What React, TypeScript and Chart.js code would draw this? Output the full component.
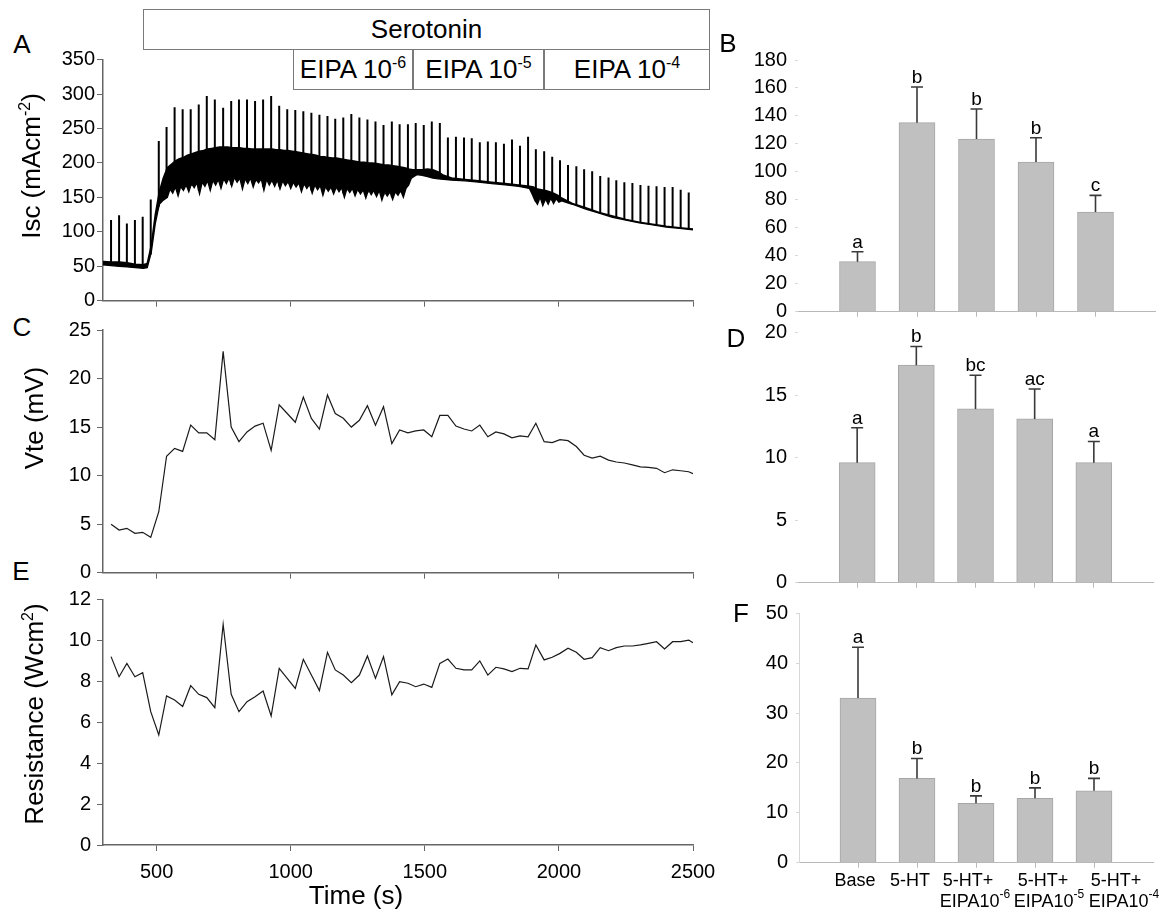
import React, { useEffect, useRef } from "react";
import { Chart, registerables } from "chart.js";

Chart.register(...registerables);

const FONT = '"Liberation Sans", Arial, Helvetica, sans-serif';

// ---------- Time axis ----------
const timeTickValues = [500, 1000, 1500, 2000, 2500];

// Sampling times (s) of the pulses / Vte / resistance readings
const sampleTimes = [330, 360, 389, 419, 448, 478, 508, 537, 567, 597, 627, 657, 687, 717, 748, 778, 807, 837, 867, 897, 927, 957, 987, 1017, 1047, 1077, 1107, 1137, 1166, 1196, 1226, 1256, 1286, 1316, 1346, 1377, 1406, 1437, 1466, 1496, 1526, 1556, 1586, 1616, 1646, 1675, 1705, 1735, 1765, 1795, 1825, 1855, 1885, 1914, 1945, 1975, 2004, 2034, 2065, 2094, 2124, 2154, 2185, 2214, 2244, 2274, 2304, 2334, 2364, 2394, 2424, 2454, 2484, 2500];

// ---------- Panel A: Isc trace ----------
const iscTicks = [0, 50, 100, 150, 200, 250, 300, 350];
// upper envelope of the recorded trace
const upperTimes = [300, 330, 360, 390, 420, 450, 465, 480, 495, 510, 525, 540, 555, 570, 585, 600, 615, 630, 645, 660, 675, 690, 705, 720, 735, 750, 765, 780, 795, 810, 825, 840, 855, 870, 885, 900, 915, 930, 945, 960, 975, 990, 1005, 1020, 1035, 1050, 1065, 1080, 1095, 1110, 1125, 1140, 1155, 1170, 1185, 1200, 1215, 1230, 1245, 1260, 1275, 1290, 1305, 1320, 1335, 1350, 1365, 1380, 1395, 1410, 1425, 1440, 1455, 1470, 1490, 1510, 1530, 1550, 1570, 1600, 1650, 1700, 1750, 1800, 1850, 1890, 1905, 1920, 1935, 1950, 1965, 1980, 1995, 2010, 2050, 2100, 2150, 2200, 2250, 2300, 2350, 2400, 2450, 2500];
const traceUpper = [57, 56, 56, 55, 53, 52, 54, 80, 125, 158, 178, 193, 198, 203, 206, 208, 211, 213, 215, 217, 218, 220, 221, 222, 223, 223, 223, 222, 222, 222, 221, 221, 220, 220, 220, 220, 220, 220, 219, 219, 218, 218, 217, 216, 215, 214, 213, 212, 211, 209, 209, 208, 207, 207, 206, 205, 204, 203, 202, 201, 201, 200, 200, 199, 198, 197, 197, 196, 195, 194, 193, 191, 190, 190, 190, 191, 190, 187, 182, 178, 176, 174, 172, 170, 168, 166, 165, 162, 161, 160, 158, 156, 153, 149, 141, 135, 128, 123, 118, 114, 111, 108, 106, 104];
// lower (ragged) envelope of the recorded trace
const lowerTimes = [300, 330, 360, 390, 420, 450, 465, 480, 495, 510, 525,
  540, 550, 560, 570, 580, 590, 600, 610, 620, 630, 640, 650, 660, 670, 680, 690, 700, 710, 720, 730, 740, 750, 760, 770, 780, 790, 800, 810, 820, 830, 840, 850, 860, 870, 880, 890, 900, 910, 920, 930, 940, 950, 960, 970, 980, 990, 1000, 1010, 1020, 1030, 1040, 1050, 1060, 1070, 1080, 1090, 1100, 1110, 1120, 1130, 1140, 1150, 1160, 1170, 1180, 1190, 1200, 1210, 1220, 1230, 1240, 1250, 1260, 1270, 1280, 1290, 1300, 1310, 1320, 1330, 1340, 1350, 1360, 1370, 1380, 1390, 1400, 1410, 1420, 1430, 1440, 1450,
  1470, 1490, 1510, 1530, 1550, 1570, 1600, 1650, 1700, 1750, 1800, 1850, 1890,
  1900, 1910, 1920, 1930, 1940, 1950, 1960, 1970, 1980, 1990, 2000, 2010,
  2050, 2100, 2150, 2200, 2250, 2300, 2350, 2400, 2450, 2500];
const traceLower = [52, 51, 50, 49, 48, 47, 48, 70, 112, 140, 146,
  150, 162, 156, 165, 152, 166, 160, 168, 158, 170, 164, 171, 155, 172, 166, 174, 160, 175, 168, 176, 163, 177, 170, 178, 166, 179, 172, 178, 162, 177, 170, 178, 165, 176, 171, 177, 160, 176, 168, 175, 166, 175, 162, 174, 167, 173, 163, 172, 165, 171, 158, 170, 163, 169, 156, 168, 161, 167, 153, 166, 159, 165, 155, 165, 158, 164, 150, 163, 157, 163, 152, 162, 155, 161, 149, 161, 154, 160, 151, 160, 146, 158, 152, 158, 147, 158, 153, 160, 150, 163, 168, 178,
  183, 182, 180, 178, 177, 176, 175, 174, 172, 170, 168, 166, 163,
  155, 146, 140, 150, 138, 148, 140, 149, 141, 148, 143, 145,
  140, 133, 127, 121, 117, 113, 110, 107, 105, 103];
const spikePeaks = [117, 124, 112, 117, 122, 147, 232, 252, 281, 278, 278, 285, 297, 292, 280, 290, 292, 292, 290, 292, 297, 283, 278, 277, 275, 273, 270, 268, 264, 266, 271, 266, 263, 260, 255, 260, 256, 256, 258, 255, 260, 258, 237, 238, 237, 236, 230, 231, 230, 228, 234, 225, 238, 220, 217, 209, 204, 197, 195, 191, 188, 181, 179, 175, 172, 171, 168, 167, 166, 165, 165, 161, 157];

// ---------- Panel C: Vte ----------
const vteTicks = [0, 5, 10, 15, 20, 25];
const vteValues = [5.0, 4.4, 4.57, 4.05, 4.16, 3.64, 6.28, 12.0, 12.8, 12.5, 15.2, 14.4, 14.4, 13.7, 22.8, 15.0, 13.5, 14.5, 15.1, 15.4, 12.6, 17.3, 16.4, 15.5, 18.1, 15.9, 14.8, 18.3, 16.4, 15.9, 15.0, 15.7, 17.2, 15.2, 17.1, 13.3, 14.7, 14.4, 14.6, 14.7, 14.0, 16.2, 16.2, 15.1, 14.8, 14.6, 15.2, 14.0, 14.5, 14.3, 13.9, 14.1, 14.0, 15.4, 13.5, 13.4, 13.7, 13.6, 13.0, 12.1, 11.8, 12.0, 11.6, 11.4, 11.3, 11.1, 10.9, 10.85, 10.75, 10.3, 10.6, 10.5, 10.4, 10.2];

// ---------- Panel E: Resistance ----------
const resTicks = [0, 2, 4, 6, 8, 10, 12];
const resistanceValues = [9.2, 8.22, 8.87, 8.22, 8.42, 6.51, 5.37, 7.28, 7.08, 6.76, 7.78, 7.36, 7.2, 6.71, 10.78, 7.36, 6.51, 7.0, 7.24, 7.52, 6.3, 8.63, 8.14, 7.65, 9.07, 8.3, 7.54, 9.41, 8.55, 8.3, 7.93, 8.3, 9.23, 8.14, 9.2, 7.33, 7.98, 7.9, 7.73, 7.86, 7.7, 8.87, 9.08, 8.63, 8.55, 8.55, 8.99, 8.3, 8.68, 8.6, 8.47, 8.63, 8.6, 9.77, 9.04, 9.17, 9.36, 9.61, 9.41, 9.07, 9.15, 9.64, 9.49, 9.64, 9.72, 9.72, 9.77, 9.85, 9.93, 9.57, 9.93, 9.93, 10.01, 9.88];

// ---------- Bar panels ----------
const treatments = ["Base", "5-HT", "5-HT+EIPA10-6", "5-HT+EIPA10-5", "5-HT+EIPA10-4"];
const labelLine1 = ["Base", "5-HT", "5-HT+", "5-HT+", "5-HT+"];
const labelLine2 = ["", "", "EIPA10", "EIPA10", "EIPA10"];
const labelSup = ["", "", "-6", "-5", "-4"];
const barPositions = [1, 2, 3, 4, 5];

const bIscTicks = [0, 20, 40, 60, 80, 100, 120, 140, 160, 180];
const bIscMeans = [35.8, 135.2, 123.5, 107.0, 71.3];
const bIscErrors = [7.1, 25.5, 21.5, 17.4, 11.9];
const bIscLetters = ["a", "b", "b", "b", "c"];

const dVteTicks = [0, 5, 10, 15, 20];
const dVteMeans = [9.6, 17.4, 13.9, 13.1, 9.6];
const dVteErrors = [2.8, 1.5, 2.7, 2.4, 1.7];
const dVteLetters = ["a", "b", "bc", "ac", "a"];

const fResTicks = [0, 10, 20, 30, 40, 50];
const fResMeans = [33.0, 16.9, 11.9, 12.9, 14.4];
const fResErrors = [10.2, 4.0, 1.5, 2.1, 2.5];
const fResLetters = ["a", "b", "b", "b", "b"];

// ---------- helpers ----------
type Box = { left: number; top: number; width: number; height: number };
type Area = { l: number; t: number; r: number; b: number };

function lowerAt(t: number) {
  for (let i = 1; i < lowerTimes.length; i++) {
    if (t <= lowerTimes[i]) {
      const t0 = lowerTimes[i - 1], t1 = lowerTimes[i];
      const f = (t - t0) / (t1 - t0);
      return traceLower[i - 1] + f * (traceLower[i] - traceLower[i - 1]);
    }
  }
  return traceLower[traceLower.length - 1];
}

function layoutFor(canvas: Box, plot: Area) {
  return {
    padding: { top: plot.t - canvas.top, right: canvas.left + canvas.width - plot.r, left: 0, bottom: 0 },
    yWidth: plot.l - canvas.left,
    xHeight: canvas.top + canvas.height - plot.b,
  };
}

const AXIS = "#666666";

function timeScales(lay: any, yTicks: number[], showX: boolean, yTickLen: number, yPad: number) {
  return {
    x: {
      type: "linear",
      min: 300,
      max: 2500,
      afterBuildTicks: (s: any) => { s.ticks = timeTickValues.map((v) => ({ value: v })); },
      afterFit: (s: any) => { s.height = lay.xHeight; s.paddingLeft = 0; s.paddingRight = 0; },
      grid: { drawOnChartArea: false, drawTicks: true, tickLength: 6, color: AXIS, lineWidth: 1 },
      border: { display: true, color: AXIS, width: 1.5 },
      ticks: {
        autoSkip: false, maxRotation: 0, padding: 9, color: "#000",
        font: { family: FONT, size: 20 },
        callback: (v: any) => (showX ? String(v) : ""),
      },
    },
    y: {
      type: "linear",
      min: yTicks[0],
      max: yTicks[yTicks.length - 1],
      afterBuildTicks: (s: any) => { s.ticks = yTicks.map((v) => ({ value: v })); },
      afterFit: (s: any) => { s.width = lay.yWidth; s.paddingTop = 0; s.paddingBottom = 0; },
      grid: { drawOnChartArea: false, drawTicks: true, tickLength: yTickLen, color: AXIS, lineWidth: 1 },
      border: { display: true, color: AXIS, width: 1.5 },
      ticks: { padding: yPad, color: "#000", font: { family: FONT, size: 20 }, callback: (v: any) => String(v) },
    },
  };
}

const baseOpts = {
  animation: false,
  responsive: false,
  devicePixelRatio: 1,
  events: [],
};

const barDecor = {
  id: "barDecor",
  afterDatasetsDraw(chart: any, _args: any, opts: any) {
    const { ctx } = chart;
    const xs = chart.scales.x;
    const ys = chart.scales.y;
    ctx.save();
    opts.means.forEach((m: number, i: number) => {
      const px = xs.getPixelForValue(barPositions[i]);
      const y0 = ys.getPixelForValue(m);
      const y1 = ys.getPixelForValue(m + opts.errors[i]);
      ctx.strokeStyle = "#3a3a3a";
      ctx.lineWidth = 1.6;
      ctx.beginPath();
      ctx.moveTo(px, y0);
      ctx.lineTo(px, y1);
      ctx.moveTo(px - 6, y1);
      ctx.lineTo(px + 6, y1);
      ctx.stroke();
      ctx.fillStyle = "#000";
      ctx.font = `19px ${FONT}`;
      ctx.textAlign = "center";
      ctx.textBaseline = "alphabetic";
      ctx.fillText(opts.letters[i], px, y1 - 4);
    });
    if (opts.showLabels) {
      const bottom = chart.chartArea.bottom;
      const shift1 = [-3, -7, -8, 8, 22];
      const shift2 = [0, 0, -1, 14, 30];
      ctx.fillStyle = "#000";
      ctx.textBaseline = "middle";
      labelLine1.forEach((l1, i) => {
        const px = xs.getPixelForValue(barPositions[i]);
        ctx.font = `18px ${FONT}`;
        ctx.textAlign = "center";
        ctx.fillText(l1, px + shift1[i], bottom + 18);
        if (labelLine2[i]) {
          ctx.font = `18px ${FONT}`;
          const w1 = ctx.measureText(labelLine2[i]).width;
          ctx.font = `12px ${FONT}`;
          const w2 = ctx.measureText(labelSup[i]).width;
          const start = px + shift2[i] - (w1 + w2) / 2;
          ctx.textAlign = "left";
          ctx.font = `18px ${FONT}`;
          ctx.fillText(labelLine2[i], start, bottom + 39);
          ctx.font = `12px ${FONT}`;
          ctx.fillText(labelSup[i], start + w1, bottom + 32);
        }
      });
    }
    ctx.restore();
  },
};

function barConfig(canvas: Box, plot: Area, ticks: number[], means: number[], errors: number[], letters: string[], showLabels: boolean, yBorder: boolean) {
  const lay = layoutFor(canvas, plot);
  return {
    type: "bar",
    data: {
      datasets: [
        {
          label: "mean",
          data: barPositions.map((p, i) => ({ x: p, y: means[i] })),
          backgroundColor: "#c0c0c0",
          borderColor: "#a6a6a6",
          borderWidth: 1,
          barThickness: 36,
        },
      ],
    },
    options: {
      ...baseOpts,
      layout: { padding: lay.padding },
      plugins: {
        legend: { display: false },
        tooltip: { enabled: false },
        barDecor: { means, errors, letters, showLabels },
      },
      scales: {
        x: {
          type: "linear",
          min: 0,
          max: 6,
          offset: false,
          afterBuildTicks: (s: any) => { s.ticks = barPositions.map((v) => ({ value: v })); },
          afterFit: (s: any) => { s.height = lay.xHeight; s.paddingLeft = 0; s.paddingRight = 0; },
          grid: { offset: false, drawOnChartArea: false, drawTicks: true, tickLength: 5, color: "#b8b8b8" },
          border: { display: true, color: "#b8b8b8", width: 1 },
          ticks: { callback: () => "", autoSkip: false },
        },
        y: {
          type: "linear",
          min: ticks[0],
          max: ticks[ticks.length - 1],
          afterBuildTicks: (s: any) => { s.ticks = ticks.map((v) => ({ value: v })); },
          afterFit: (s: any) => { s.width = lay.yWidth; s.paddingTop = 0; s.paddingBottom = 0; },
          grid: { drawOnChartArea: false, drawTicks: true, tickLength: 3, color: "#d8d8d8" },
          border: { display: yBorder, color: "#d8d8d8", width: 1 },
          ticks: { padding: 8, color: "#000", font: { family: FONT, size: 20 }, callback: (v: any) => String(v) },
        },
      },
    },
    plugins: [barDecor],
  };
}

// ---------- panel geometry ----------
const boxA: Box = { left: 40, top: 40, width: 690, height: 275 };
const plotA: Area = { l: 103, t: 59.6, r: 693, b: 300.7 };
const boxC: Box = { left: 40, top: 315, width: 690, height: 270 };
const plotC: Area = { l: 103, t: 330, r: 693, b: 572.7 };
const boxE: Box = { left: 40, top: 585, width: 690, height: 305 };
const plotE: Area = { l: 103, t: 599.3, r: 693, b: 845 };
const boxB: Box = { left: 745, top: 45, width: 420, height: 275 };
const plotB: Area = { l: 798, t: 60, r: 1155, b: 311.7 };
const boxD: Box = { left: 745, top: 320, width: 420, height: 270 };
const plotD: Area = { l: 798, t: 332.7, r: 1153, b: 582.7 };
const boxF: Box = { left: 745, top: 600, width: 423, height: 318 };
const plotF: Area = { l: 799, t: 613.3, r: 1153, b: 862.7 };

function configA() {
  const lay = layoutFor(boxA, plotA);
  const spikeData: any[] = [];
  spikePeaks.forEach((p, i) => {
    const t = sampleTimes[i];
    spikeData.push({ x: t, y: lowerAt(t) }, { x: t, y: p }, { x: t, y: null });
  });
  return {
    type: "line",
    data: {
      datasets: [
        { label: "upper", data: upperTimes.map((t, i) => ({ x: t, y: traceUpper[i] })), borderColor: "#000", borderWidth: 1.6, pointRadius: 0, fill: false },
        { label: "lower", data: lowerTimes.map((t, i) => ({ x: t, y: traceLower[i] })), borderColor: "#000", borderWidth: 1.3, pointRadius: 0, fill: "-1", backgroundColor: "#000" },
        { label: "spikes", data: spikeData, borderColor: "#000", borderWidth: 2, pointRadius: 0, spanGaps: false, fill: false },
      ],
    },
    options: {
      ...baseOpts,
      layout: { padding: lay.padding },
      plugins: { legend: { display: false }, tooltip: { enabled: false } },
      scales: timeScales(lay, iscTicks, false, 6, 2),
    },
  };
}

function lineConfig(box: Box, plot: Area, ticks: number[], values: number[], showX: boolean) {
  const lay = layoutFor(box, plot);
  return {
    type: "line",
    data: {
      datasets: [
        { label: "v", data: sampleTimes.map((t, i) => ({ x: t, y: values[i] })), borderColor: "#1a1a1a", borderWidth: 1.2, pointRadius: 0, fill: false, tension: 0 },
      ],
    },
    options: {
      ...baseOpts,
      layout: { padding: lay.padding },
      plugins: { legend: { display: false }, tooltip: { enabled: false } },
      scales: timeScales(lay, ticks, showX, 6, 6),
    },
  };
}

function ChartCanvas({ box, make }: { box: Box; make: () => any }) {
  const ref = useRef<HTMLCanvasElement>(null);
  useEffect(() => {
    const chart = new Chart(ref.current as HTMLCanvasElement, make());
    return () => chart.destroy();
  }, []);
  return (
    <canvas
      ref={ref}
      width={box.width}
      height={box.height}
      style={{ position: "absolute", left: box.left, top: box.top, width: box.width, height: box.height }}
    />
  );
}

const textBase: React.CSSProperties = { position: "absolute", fontFamily: FONT, color: "#000", whiteSpace: "nowrap" };

function Letter({ x, y, children }: { x: number; y: number; children: React.ReactNode }) {
  return (
    <div style={{ ...textBase, left: x, top: y, transform: "translate(-50%,-50%)", fontSize: 26, lineHeight: "26px" }}>{children}</div>
  );
}

function VTitle({ x, y, children }: { x: number; y: number; children: React.ReactNode }) {
  return (
    <div style={{ ...textBase, left: x, top: y, transform: "translate(-50%,-50%) rotate(-90deg)", fontSize: 26, lineHeight: "28px" }}>{children}</div>
  );
}

const supStyle: React.CSSProperties = { fontSize: 16, lineHeight: 0, verticalAlign: "super" };

function HeaderBox({ l, r, t, b, children }: { l: number; r: number; t: number; b: number; children: React.ReactNode }) {
  return (
    <div
      style={{
        ...textBase,
        left: l,
        top: t,
        width: r - l,
        height: b - t,
        boxSizing: "border-box",
        border: "1px solid #7a7a7a",
        display: "flex",
        alignItems: "center",
        justifyContent: "center",
        fontSize: 26,
        background: "#fff",
      }}
    >
      <span>{children}</span>
    </div>
  );
}

export default function App() {
  return (
    <div style={{ position: "fixed", left: 0, top: 0, width: 1168, height: 918, background: "#fff", overflow: "hidden" }}>
      <ChartCanvas box={boxA} make={configA} />
      <ChartCanvas box={boxC} make={() => lineConfig(boxC, plotC, vteTicks, vteValues, false)} />
      <ChartCanvas box={boxE} make={() => lineConfig(boxE, plotE, resTicks, resistanceValues, true)} />
      <ChartCanvas box={boxB} make={() => barConfig(boxB, plotB, bIscTicks, bIscMeans, bIscErrors, bIscLetters, false, false)} />
      <ChartCanvas box={boxD} make={() => barConfig(boxD, plotD, dVteTicks, dVteMeans, dVteErrors, dVteLetters, false, false)} />
      <ChartCanvas box={boxF} make={() => barConfig(boxF, plotF, fResTicks, fResMeans, fResErrors, fResLetters, true, true)} />

      <HeaderBox l={143} r={710} t={9} b={50}>Serotonin</HeaderBox>
      <HeaderBox l={293} r={413} t={49} b={90}>EIPA 10<sup style={supStyle}>-6</sup></HeaderBox>
      <HeaderBox l={413} r={544} t={49} b={90}>EIPA 10<sup style={supStyle}>-5</sup></HeaderBox>
      <HeaderBox l={544} r={710} t={49} b={90}>EIPA 10<sup style={supStyle}>-4</sup></HeaderBox>

      <Letter x={22} y={44}>A</Letter>
      <Letter x={22} y={327}>C</Letter>
      <Letter x={21} y={571}>E</Letter>
      <Letter x={728} y={43}>B</Letter>
      <Letter x={736} y={338}>D</Letter>
      <Letter x={741} y={613}>F</Letter>

      <VTitle x={31} y={166}>Isc (mAcm<sup style={supStyle}>-2</sup>)</VTitle>
      <VTitle x={34} y={418}>Vte (mV)</VTitle>
      <VTitle x={34} y={714}>Resistance (Wcm<sup style={supStyle}>2</sup>)</VTitle>
      <div style={{ ...textBase, left: 356, top: 895, transform: "translate(-50%,-50%)", fontSize: 26, lineHeight: "28px" }}>Time (s)</div>
      <span style={{ display: "none" }}>{treatments.join(",")}</span>
    </div>
  );
}
